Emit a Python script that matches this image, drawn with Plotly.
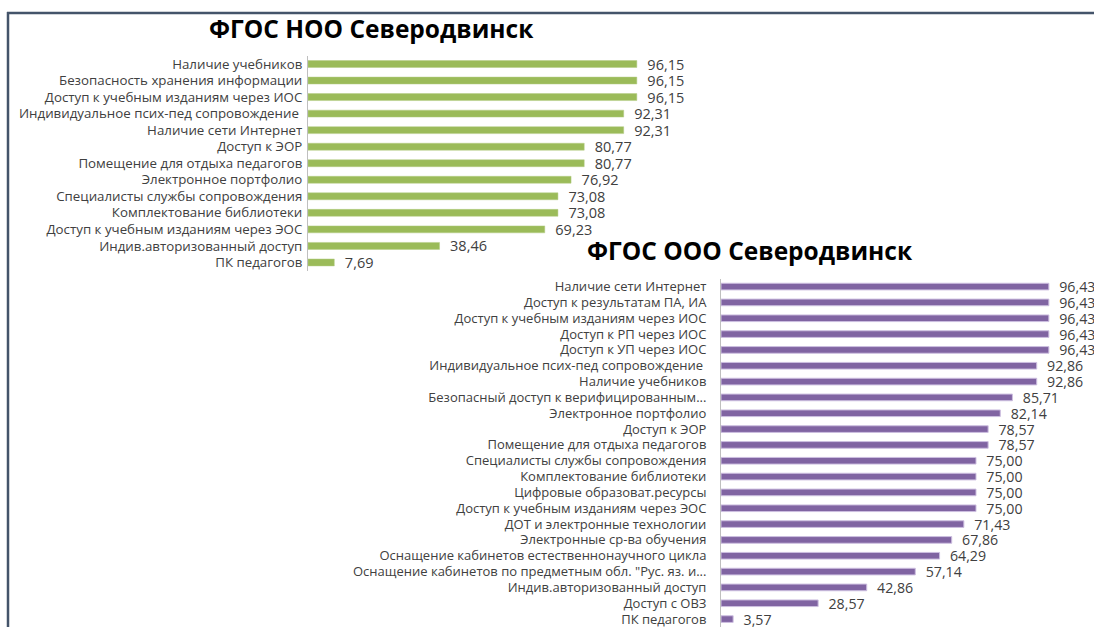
import plotly.graph_objects as go

W, H = 1094, 628

noo_labels = [
    "Наличие учебников",
    "Безопасность хранения информации",
    "Доступ к учебным изданиям через ИОС",
    "Индивидуальное псих-пед сопровождение ",
    "Наличие сети Интернет",
    "Доступ к ЭОР",
    "Помещение для отдыха педагогов",
    "Электронное портфолио",
    "Специалисты службы сопровождения",
    "Комплектование библиотеки",
    "Доступ к учебным изданиям через ЭОС",
    "Индив.авторизованный доступ",
    "ПК педагогов",
]
noo_values = [96.15, 96.15, 96.15, 92.31, 92.31, 80.77, 80.77, 76.92, 73.08, 73.08, 69.23, 38.46, 7.69]

ooo_labels = [
    "Наличие сети Интернет",
    "Доступ к результатам ПА, ИА",
    "Доступ к учебным изданиям через ИОС",
    "Доступ к РП через ИОС",
    "Доступ к УП через ИОС",
    "Индивидуальное псих-пед сопровождение ",
    "Наличие учебников",
    "Безопасный доступ к верифицированным...",
    "Электронное портфолио",
    "Доступ к ЭОР",
    "Помещение для отдыха педагогов",
    "Специалисты службы сопровождения",
    "Комплектование библиотеки",
    "Цифровые образоват.ресурсы",
    "Доступ к учебным изданиям через ЭОС",
    "ДОТ и электронные технологии",
    "Электронные ср-ва обучения",
    "Оснащение кабинетов естественнонаучного цикла",
    "Оснащение кабинетов по предметным обл. \"Рус. яз. и...",
    "Индив.авторизованный доступ",
    "Доступ с ОВЗ",
    "ПК педагогов",
]
ooo_values = [96.43, 96.43, 96.43, 96.43, 96.43, 92.86, 92.86, 85.71, 82.14, 78.57, 78.57,
              75.00, 75.00, 75.00, 75.00, 71.43, 67.86, 64.29, 57.14, 42.86, 28.57, 3.57]

titles = ["ФГОС НОО Северодвинск", "ФГОС ООО Северодвинск"]

FONT = "Open Sans"
GREEN = "#9bbb59"
PURPLE = "#8064a2"
TXT = "#404040"


def fmt(v):
    return "\u00a0\u00a0" + f"{v:.2f}".replace(".", ",")


def px_x(p):
    return p / W


def px_y(p):
    return 1 - p / H


fig = go.Figure()

fig.add_trace(go.Bar(
    x=noo_values, y=noo_labels, orientation="h",
    marker=dict(color=GREEN, line=dict(color="#b5cc87", width=0.5)),
    text=[fmt(v) for v in noo_values], textposition="outside", cliponaxis=False,
    constraintext="none",
    textfont=dict(family=FONT, size=14.5, color=TXT),
    xaxis="x", yaxis="y", width=0.42, hoverinfo="skip",
))
fig.add_trace(go.Bar(
    x=ooo_values, y=ooo_labels, orientation="h",
    marker=dict(color=PURPLE, line=dict(color="#cdbfe0", width=1)),
    text=[fmt(v) for v in ooo_values], textposition="outside", cliponaxis=False,
    constraintext="none",
    textfont=dict(family=FONT, size=14.2, color=TXT),
    xaxis="x2", yaxis="y2", width=0.42, hoverinfo="skip",
))

fig.update_layout(
    width=W, height=H,
    margin=dict(l=0, r=0, t=0, b=0),
    paper_bgcolor="white", plot_bgcolor="white",
    showlegend=False,
    font=dict(family=FONT, color=TXT),
    xaxis=dict(domain=[px_x(308), px_x(650)], range=[0, 100], visible=False, fixedrange=True),
    yaxis=dict(domain=[px_y(270), px_y(54)], autorange="reversed", showgrid=False,
               showline=True, linecolor="#bfbfbf", linewidth=1, ticks="",
               tickmode="array", tickvals=noo_labels, ticktext=noo_labels,
               tickfont=dict(family=FONT, size=13.3, color=TXT), ticklabelstandoff=2,
               anchor="x", fixedrange=True),
    xaxis2=dict(domain=[px_x(721), px_x(1061)], range=[0, 100], visible=False, fixedrange=True,
                anchor="y2"),
    yaxis2=dict(domain=[0, px_y(278)], autorange="reversed", showgrid=False,
                showline=True, linecolor="#bfbfbf", linewidth=1, ticks="",
                tickmode="array", tickvals=ooo_labels, ticktext=ooo_labels,
                tickfont=dict(family=FONT, size=13, color=TXT), ticklabelstandoff=11,
                anchor="x2", fixedrange=True),
    annotations=[
        dict(text="<b>" + titles[0] + "</b>", x=px_x(371), y=px_y(27), xref="paper", yref="paper",
             showarrow=False, font=dict(family=FONT, size=24.5, color="black"),
             xanchor="center", yanchor="middle"),
        dict(text="<b>" + titles[1] + "</b>", x=px_x(750), y=px_y(250), xref="paper", yref="paper",
             showarrow=False, font=dict(family=FONT, size=24.5, color="black"),
             xanchor="center", yanchor="middle"),
    ],
    shapes=[
        dict(type="line", xref="paper", yref="paper", x0=px_x(7), x1=px_x(1094),
             y0=px_y(11), y1=px_y(11), line=dict(color="#44546a", width=2.5)),
        dict(type="line", xref="paper", yref="paper", x0=px_x(8), x1=px_x(8),
             y0=px_y(10), y1=0, line=dict(color="#44546a", width=2.5)),
    ],
)

fig.write_html("out.html", config={"displayModeBar": False},
               post_script="document.body.style.margin='0';document.body.style.overflow='hidden';")
